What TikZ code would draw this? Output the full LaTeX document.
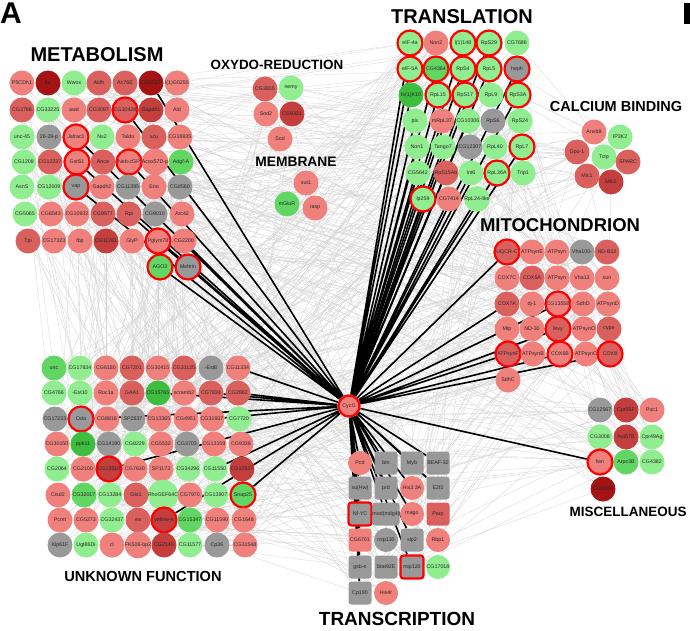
\documentclass[tikz,border=0pt]{standalone}
\usepackage{fontspec}
\setmainfont{Liberation Sans}
\usepackage{tikz}

\definecolor{genesalmon}{RGB}{240,128,124}
\definecolor{genemid}{RGB}{218,96,94}
\definecolor{genedark}{RGB}{196,62,62}
\definecolor{genedeep}{RGB}{165,20,20}
\definecolor{genelgrn}{RGB}{144,238,144}
\definecolor{genemgrn}{RGB}{98,214,98}
\definecolor{genedgrn}{RGB}{62,190,62}
\definecolor{genegray}{RGB}{153,153,153}
\definecolor{ringred}{RGB}{255,0,0}
\newcommand{\genefont}{\fontsize{5.3}{6}\selectfont}

\pgfdeclarelayer{back}
\pgfdeclarelayer{mid}
\pgfsetlayers{back,mid,main}

\pgfmathdeclarerandomlist{genes}{{P5CDh1}{fbr}{Wwox}{Aldh}{Ac76E}{CG5527}{lG0255}{CG3788}{CG33225}{awd}{CG3097}{CG30428}{Gapdh1}{Ald}{unc45}{p2629}{Jafrac1}{Ns2}{Taldo}{scu}{CG16935}{CG1208}{CG12237}{GstS1}{Ance}{NebcGP}{Acox57D}{AdgfA}{AsnS}{CG12009}{vap}{Gapdh2}{CG11395}{Eno}{CG8560}{CG5065}{CG6543}{CG10932}{CG9577}{Rpi}{CG9010}{Arc42}{Tpi}{CG17323}{fbp}{CG11261}{GlyP}{Pglym78}{CG2200}{AGO3}{Meltrin}{CG3835}{nemy}{Sod2}{CG9331}{Sod}{sut1}{mGluR}{rasp}{eIF4a}{Non2}{l1148}{RpS29}{CG7686}{eIF5A}{CG4364}{RpS4}{RpL5}{heph}{fs1K10}{RpL15}{RpS17}{RpL9}{RpS3A}{pix}{mRpL37}{CG10306}{RpS6}{RpS24}{Non1}{Tango7}{CG12307}{RpL40}{RpL7}{CG5642}{RpS15Ab}{Int6}{RpL36A}{Trip1}{lp259}{CG7414}{RpL24like}{Anxb9}{IP3K2}{Gpo1}{Tctp}{SPARC}{Mlc1}{Mlc2}{UQCRC}{ATPsynE}{ATPsynG}{Vha100}{NDB12}{COX7C}{COX5A}{ATPsynCf}{Vha13}{sun}{COX7A}{dj1}{CG13558}{SdhD}{ATPsynD}{Mtp}{ND30}{levy}{ATPsynO}{cype}{ATPsynF}{ATPsynB}{COX6B}{ATPsynC}{COX8}{SdhC}{CG12567}{Cpr56F}{Poc1}{CG3008}{Act57B}{Cpr49Ag}{fwn}{Arpc3B}{CG4382}{CG5023}{unc}{CG17834}{CG6180}{CG7201}{CG30415}{CG31125}{Est8}{CG11334}{CG4766}{Est10}{Roc1a}{GAA1}{CG15765}{scramb2}{CG7834}{CG2862}{CG17233}{Oda}{CG8818}{SP2637}{CG13365}{CG4951}{CG31937}{CG7720}{CG30150}{ppk11}{CG14190}{CG8229}{CG5532}{CG3703}{CG12159}{CG9338}{CG2064}{CG2100}{CG13510}{CG7630}{SP1173}{CG34296}{CG11550}{CG10527}{Cisd2}{CG32017}{CG13284}{Glo1}{RhoGEF64C}{CG7970}{CG13907}{Snap25}{Pcmt}{CG5273}{CG32437}{ea}{yellowe}{CG15347}{CG11590}{CG1648}{Klp61F}{Ugt86Di}{cl}{FK506bp2}{CG2145}{CG11577}{Cp36}{CG31548}{Pcd}{bin}{Myb}{BEAF32}{suHw}{prd}{His33A}{E2f2}{NfYC}{moddmg4}{mago}{Parp}{CG6701}{mip130}{slp2}{Rbp1}{gsbn}{Stat92E}{mip120}{CG17018}{Cp190}{His4r}}

\begin{document}
\begin{tikzpicture}[x=1pt, y=-1pt,
    gene/.style={circle, minimum size=25pt, inner sep=0pt, font=\genefont, text=black!85},
    tf/.style={rectangle, rounded corners=3pt, minimum size=23pt, inner sep=0pt, font=\genefont, text=black!85},
    lr/.style={fill=genesalmon}, mr/.style={fill=genemid}, dr/.style={fill=genedark}, vr/.style={fill=genedeep},
    lg/.style={fill=genelgrn}, mg/.style={fill=genemgrn}, dg/.style={fill=genedgrn}, gy/.style={fill=genegray},
    hit/.style={draw=ringred, line width=2.2pt},
    grp/.style={font=\bfseries\fontsize{#1}{#1}\selectfont, inner sep=0pt},
    link/.style={draw=black, line width=1.6pt},
    mesh/.style={draw=black!17, line width=0.3pt}]
    \useasboundingbox (0,0) rectangle (690,631);
    \node[font=\bfseries\fontsize{30}{30}\selectfont, inner sep=0pt] (panelA) at (11,13) {A};
    \fill (684,3) rectangle (690,24);

    % titles
    \node[grp=20] (tMetab) at (97,55) {METABOLISM};
    \node[grp=13.4] (tOxy) at (277,65) {OXYDO-REDUCTION};
    \node[grp=13.8] (tMemb) at (296,162) {MEMBRANE};
    \node[grp=20] (tTransl) at (462,17) {TRANSLATION};
    \node[grp=14.5] (tCalc) at (616,107) {CALCIUM BINDING};
    \node[grp=18.5] (tMito) at (560,225) {MITOCHONDRION};
    \node[grp=13.5] (tMisc) at (628,512) {MISCELLANEOUS};
    \node[grp=14.6] (tUnkn) at (143,576) {UNKNOWN FUNCTION};
    \node[grp=19] (tTransc) at (397,619) {TRANSCRIPTION};

    % hub
    \node[gene, lr, hit, minimum size=21pt] (CycG) at (349,406) {CycG};

    % metabolism
    \node[gene,lr] (P5CDh1) at (22,83) {P5CDh1}; \node[gene,vr] (fbr) at (48,83) {fbr}; \node[gene,lg] (Wwox) at (74,83) {Wwox}; \node[gene,mr] (Aldh) at (99,83) {Aldh}; \node[gene,mr] (Ac76E) at (125,83) {Ac76E}; \node[gene,vr] (CG5527) at (151,83) {CG5527}; \node[gene,lr] (lG0255) at (177,83) {l(1)G0255};
    \node[gene,mr] (CG3788) at (22,110) {CG3788}; \node[gene,lg] (CG33225) at (48,110) {CG33225}; \node[gene,lr] (awd) at (74,110) {awd}; \node[gene,mr] (CG3097) at (99,110) {CG3097}; \node[gene,mr,hit] (CG30428) at (125,110) {CG30428}; \node[gene,dr] (Gapdh1) at (151,110) {Gapdh1}; \node[gene,lr] (Ald) at (177,110) {Ald};
    \node[gene,lg] (unc45) at (22,137) {unc-45}; \node[gene,gy] (p2629) at (49,137) {26-29-p}; \node[gene,lr,hit] (Jafrac1) at (76,137) {Jafrac1}; \node[gene,lg] (Ns2) at (102,137) {Ns2}; \node[gene,lr] (Taldo) at (128,137) {Taldo}; \node[gene,mr] (scu) at (154,137) {scu}; \node[gene,lr] (CG16935) at (180,137) {CG16935};
    \node[gene,lg] (CG1208) at (24,162) {CG1208}; \node[gene,mr] (CG12237) at (50,162) {CG12237}; \node[gene,lr,hit] (GstS1) at (77,162) {GstS1}; \node[gene,mr] (Ance) at (103,162) {Ance}; \node[gene,lr,hit] (NebcGP) at (129,162) {Neb-cGP}; \node[gene,lr] (Acox57D) at (155,162) {Acox57D-p}; \node[gene,mg] (AdgfA) at (181,162) {Adgf-A};
    \node[gene,lg] (AsnS) at (22,187) {AsnS}; \node[gene,lg] (CG12009) at (49,187) {CG12009}; \node[gene,gy,hit] (vap) at (76,187) {vap}; \node[gene,lr] (Gapdh2) at (102,187) {Gapdh2}; \node[gene,gy] (CG11395) at (128,187) {CG11395}; \node[gene,lr] (Eno) at (154,187) {Eno}; \node[gene,gy] (CG8560) at (180,187) {CG8560};
    \node[gene,lg] (CG5065) at (25,214) {CG5065}; \node[gene,lr] (CG6543) at (51,214) {CG6543}; \node[gene,lr] (CG10932) at (77,214) {CG10932}; \node[gene,mr] (CG9577) at (103,214) {CG9577}; \node[gene,mr] (Rpi) at (129,214) {Rpi}; \node[gene,gy] (CG9010) at (155,214) {CG9010}; \node[gene,lr] (Arc42) at (182,214) {Arc42};
    \node[gene,mr] (Tpi) at (28,241) {Tpi}; \node[gene,lr] (CG17323) at (54,241) {CG17323}; \node[gene,lr] (fbp) at (80,241) {fbp}; \node[gene,dr] (CG11261) at (106,241) {CG11261}; \node[gene,lr] (GlyP) at (132,241) {GlyP}; \node[gene,lr,hit] (Pglym78) at (158,241) {Pglym78}; \node[gene,lr] (CG2200) at (184,241) {CG2200};
    \node[gene,mg,hit] (AGO3) at (160,267) {AGO3}; \node[gene,gy,hit] (Meltrin) at (188,267) {Meltrin};

    % oxydo-reduction and membrane
    \node[gene,mr] (CG3835) at (265,89) {CG3835}; \node[gene,lg] (nemy) at (291,88) {nemy};
    \node[gene,lr] (Sod2) at (266,114) {Sod2}; \node[gene,dr] (CG9331) at (292,114) {CG9331};
    \node[gene,lr] (Sod) at (280,139) {Sod};
    \node[gene,lr] (sut1) at (306,183) {sut1}; \node[gene,mg] (mGluR) at (287,204) {mGluR}; \node[gene,lr] (rasp) at (315,208) {rasp};

    % translation
    \node[gene,lg,hit] (eIF4a) at (410,43) {eIF-4a}; \node[gene,lr] (Non2) at (436,43) {Non2}; \node[gene,lg,hit] (l1148) at (463,43) {l(1)148}; \node[gene,lg,hit] (RpS29) at (489,43) {RpS29}; \node[gene,lg] (CG7686) at (517,43) {CG7686};
    \node[gene,lg,hit] (eIF5A) at (410,69) {eIF-5A}; \node[gene,mg,hit] (CG4364) at (436,69) {CG4364}; \node[gene,lg,hit] (RpS4) at (463,69) {RpS4}; \node[gene,lg,hit] (RpL5) at (489,69) {RpL5}; \node[gene,gy,hit] (heph) at (517,69) {heph};
    \node[gene,dg] (fs1K10) at (411,95) {fs(1)K10}; \node[gene,lg,hit] (RpL15) at (438,95) {RpL15}; \node[gene,lg,hit] (RpS17) at (465,95) {RpS17}; \node[gene,lg] (RpL9) at (491,95) {RpL9}; \node[gene,lg,hit] (RpS3A) at (518,95) {RpS3A};
    \node[gene,lg] (pix) at (415,121) {pix}; \node[gene,lr] (mRpL37) at (442,121) {mRpL37}; \node[gene,lg] (CG10306) at (468,121) {CG10306}; \node[gene,gy] (RpS6) at (493,121) {RpS6}; \node[gene,lg] (RpS24) at (520,121) {RpS24};
    \node[gene,lg] (Non1) at (417,147) {Non1}; \node[gene,lg] (Tango7) at (443,147) {Tango7}; \node[gene,gy] (CG12307) at (470,147) {CG12307}; \node[gene,lg] (RpL40) at (495,147) {RpL40}; \node[gene,lg,hit] (RpL7) at (522,147) {RpL7};
    \node[gene,lg] (CG5642) at (418,173) {CG5642}; \node[gene,mr] (RpS15Ab) at (446,173) {RpS15Ab}; \node[gene,lg] (Int6) at (471,173) {Int6}; \node[gene,lg,hit] (RpL36A) at (497,173) {RpL36A}; \node[gene,lg] (Trip1) at (523,173) {Trip1};
    \node[gene,lg,hit] (lp259) at (423,199) {lp259}; \node[gene,lr] (CG7414) at (449,199) {CG7414}; \node[gene,lg] (RpL24like) at (477,199) {RpL24-like};

    % calcium binding
    \node[gene,lr] (Anxb9) at (594,132) {Anxb9}; \node[gene,lg] (IP3K2) at (620,137) {IP3K2};
    \node[gene,mr] (Gpo1) at (577,152) {Gpo-1}; \node[gene,lg] (Tctp) at (604,157) {Tctp}; \node[gene,mr] (SPARC) at (628,162) {SPARC};
    \node[gene,mr] (Mlc1) at (587,176) {Mlc1}; \node[gene,dr] (Mlc2) at (611,182) {Mlc2};

    % mitochondrion
    \node[gene,mr,hit] (UQCRC) at (507,252) {UQCR-C}; \node[gene,lr] (ATPsynE) at (532,252) {ATPsynE}; \node[gene,lr] (ATPsynG) at (557,252) {ATPsyn}; \node[gene,gy] (Vha100) at (582,252) {Vha100-}; \node[gene,mr] (NDB12) at (607,252) {ND-B12};
    \node[gene,lr] (COX7C) at (507,278) {COX7C}; \node[gene,mr] (COX5A) at (532,278) {COX5A}; \node[gene,lr] (ATPsynCf) at (557,278) {ATPsyn}; \node[gene,lr] (Vha13) at (582,278) {Vha13}; \node[gene,lr] (sun) at (607,278) {sun};
    \node[gene,mr] (COX7A) at (507,304) {COX7A}; \node[gene,lr] (dj1) at (532,304) {dj-1}; \node[gene,lr,hit] (CG13558) at (558,304) {CG13558}; \node[gene,lr] (SdhD) at (583,304) {SdhD}; \node[gene,lr] (ATPsynD) at (608,304) {ATPsynD};
    \node[gene,lr] (Mtp) at (507,329) {Mtp}; \node[gene,lr] (ND30) at (532,329) {ND-30}; \node[gene,mr,hit] (levy) at (558,329) {levy}; \node[gene,lr] (ATPsynO) at (584,329) {ATPsynO}; \node[gene,mr] (cype) at (609,329) {cype};
    \node[gene,mr,hit] (ATPsynF) at (508,354) {ATPsynF}; \node[gene,lr] (ATPsynB) at (533,354) {ATPsynB}; \node[gene,lr,hit] (COX6B) at (560,354) {COX6B}; \node[gene,lr] (ATPsynC) at (586,354) {ATPsynC}; \node[gene,mr,hit] (COX8) at (610,354) {COX8};
    \node[gene,lr] (SdhC) at (508,380) {SdhC};

    % miscellaneous
    \node[gene,gy] (CG12567) at (600,410) {CG12567}; \node[gene,dr] (Cpr56F) at (626,410) {Cpr56F}; \node[gene,lr] (Poc1) at (652,410) {Poc1};
    \node[gene,lg] (CG3008) at (600,437) {CG3008}; \node[gene,dr] (Act57B) at (626,437) {Act57B}; \node[gene,lg] (Cpr49Ag) at (652,437) {Cpr49Ag};
    \node[gene,lr,hit] (fwn) at (600,462) {fwn}; \node[gene,mg] (Arpc3B) at (626,462) {Arpc3B}; \node[gene,lg] (CG4382) at (652,462) {CG4382};
    \node[gene,vr] (CG5023) at (603,489) {CG5023};

    % unknown function
    \node[gene,mg] (unc) at (54,368) {unc}; \node[gene,lg] (CG17834) at (80,368) {CG17834}; \node[gene,lr] (CG6180) at (106,368) {CG6180}; \node[gene,mr] (CG7201) at (132,368) {CG7201}; \node[gene,lr] (CG30415) at (158,368) {CG30415}; \node[gene,mr] (CG31125) at (184,368) {CG31125}; \node[gene,gy] (Est8) at (211,368) {-Est8}; \node[gene,lr] (CG11334) at (238,368) {CG11334};
    \node[gene,lg] (CG4766) at (54,393) {CG4766}; \node[gene,lg] (Est10) at (80,393) {-Est10}; \node[gene,lr] (Roc1a) at (106,393) {Roc1a}; \node[gene,mr] (GAA1) at (132,393) {GAA1}; \node[gene,dg] (CG15765) at (158,393) {CG15765}; \node[gene,lr] (scramb2) at (184,393) {scramb2}; \node[gene,mr] (CG7834) at (211,393) {CG7834}; \node[gene,mr] (CG2862) at (238,393) {CG2862};
    \node[gene,gy] (CG17233) at (55,419) {CG17233}; \node[gene,gy,hit] (Oda) at (81,419) {Oda}; \node[gene,lr] (CG8818) at (107,419) {CG8818}; \node[gene,gy] (SP2637) at (133,419) {SP2637}; \node[gene,lr] (CG13365) at (159,419) {CG13365}; \node[gene,lr] (CG4951) at (186,419) {CG4951}; \node[gene,lr] (CG31937) at (212,419) {CG31937}; \node[gene,lg] (CG7720) at (239,419) {CG7720};
    \node[gene,lr] (CG30150) at (57,444) {CG30150}; \node[gene,dg] (ppk11) at (83,444) {ppk11}; \node[gene,gy] (CG14190) at (109,444) {CG14190}; \node[gene,lg] (CG8229) at (135,444) {CG8229}; \node[gene,lr] (CG5532) at (161,444) {CG5532}; \node[gene,gy] (CG3703) at (187,444) {CG3703}; \node[gene,lr] (CG12159) at (214,444) {CG12159}; \node[gene,lr] (CG9338) at (241,444) {CG9338};
    \node[gene,lg] (CG2064) at (57,469) {CG2064}; \node[gene,lr] (CG2100) at (83,469) {CG2100}; \node[gene,dr,hit] (CG13510) at (109,469) {CG13510}; \node[gene,lr] (CG7630) at (135,469) {CG7630}; \node[gene,lr] (SP1173) at (161,469) {SP1173}; \node[gene,lg] (CG34296) at (188,469) {CG34296}; \node[gene,lg] (CG11550) at (215,469) {CG11550}; \node[gene,dr] (CG10527) at (242,469) {CG10527};
    \node[gene,lr] (Cisd2) at (58,495) {Cisd2}; \node[gene,mg] (CG32017) at (84,495) {CG32017}; \node[gene,lg] (CG13284) at (110,495) {CG13284}; \node[gene,mr] (Glo1) at (136,495) {Glo1}; \node[gene,lg] (RhoGEF64C) at (163,495) {RhoGEF64C}; \node[gene,lr] (CG7970) at (190,495) {CG7970}; \node[gene,lg] (CG13907) at (216,495) {CG13907}; \node[gene,mg,hit] (Snap25) at (243,495) {Snap25};
    \node[gene,lr] (Pcmt) at (60,520) {Pcmt}; \node[gene,lr] (CG5273) at (86,520) {CG5273}; \node[gene,lg] (CG32437) at (112,520) {CG32437}; \node[gene,mr] (ea) at (138,520) {ea}; \node[gene,dr,hit] (yellowe) at (164,520) {yellow-e}; \node[gene,mg] (CG15347) at (190,520) {CG15347}; \node[gene,lr] (CG11590) at (217,520) {CG11590}; \node[gene,lr] (CG1648) at (244,520) {CG1648};
    \node[gene,gy] (Klp61F) at (60,545) {Klp61F}; \node[gene,lg] (Ugt86Di) at (86,545) {Ugt86Di}; \node[gene,lr] (cl) at (112,545) {cl}; \node[gene,lr] (FK506bp2) at (138,545) {FK506-bp2}; \node[gene,dr] (CG2145) at (164,545) {CG2145}; \node[gene,lg] (CG11577) at (190,545) {CG11577}; \node[gene,gy] (Cp36) at (217,545) {Cp36}; \node[gene,lr] (CG31548) at (245,545) {CG31548};

    % transcription
    \node[gene,lr,minimum size=24pt] (Pcd) at (360,463) {Pcd}; \node[tf,gy] (bin) at (386,463) {bin}; \node[tf,gy] (Myb) at (412,463) {Myb}; \node[tf,gy] (BEAF32) at (438,463) {BEAF-32};
    \node[tf,gy] (suHw) at (360,488) {su(Hw)}; \node[tf,gy] (prd) at (386,488) {prd}; \node[gene,lr,minimum size=24pt] (His33A) at (412,488) {His3.3A}; \node[tf,gy] (E2f2) at (438,488) {E2f2};
    \node[tf,gy,hit] (NfYC) at (360,514) {Nf-YC}; \node[tf,gy] (moddmg4) at (386,514) {mod(mdg4)}; \node[gene,lr,minimum size=24pt] (mago) at (412,514) {mago}; \node[tf,mr] (Parp) at (438,514) {Parp};
    \node[tf,lr] (CG6701) at (360,540) {CG6701}; \node[gene,gy,minimum size=24pt] (mip130) at (386,540) {mip130}; \node[tf,gy] (slp2) at (412,540) {slp2}; \node[gene,lr,minimum size=24pt] (Rbp1) at (438,540) {Rbp1};
    \node[tf,gy] (gsbn) at (360,567) {gsb-n}; \node[tf,gy] (Stat92E) at (386,567) {Stat92E}; \node[tf,gy,hit] (mip120) at (412,567) {mip120}; \node[gene,lg,minimum size=24pt] (CG17018) at (438,567) {CG17018};
    \node[tf,gy] (Cp190) at (360,593) {Cp190}; \node[gene,lr,minimum size=24pt] (His4r) at (386,593) {His4r};

    % background interactions
    \begin{pgfonlayer}{back}
        \pgfmathsetseed{4217}
        \foreach \k in {1,...,760} {
            \pgfmathrandomitem{\ga}{genes}\pgfmathrandomitem{\gb}{genes}
            \draw[mesh] (\ga) -- (\gb);
        }
    \end{pgfonlayer}

    % CycG partners
    \begin{pgfonlayer}{mid}
        \draw[link] (CycG) -- (CG5527) (CycG) -- (CG30428) (CycG) -- (Jafrac1) (CycG) -- (GstS1) (CycG) -- (NebcGP) (CycG) -- (vap) (CycG) -- (Rpi) (CycG) -- (Pglym78) (CycG) -- (CG2200) (CycG) -- (AGO3) (CycG) -- (Meltrin);
        \draw[link] (CycG) -- (eIF4a) (CycG) -- (eIF5A) (CycG) -- (fs1K10) (CycG) -- (pix) (CycG) -- (Non1) (CycG) -- (CG5642) (CycG) -- (lp259) (CycG) -- (CG4364) (CycG) -- (RpL15) (CycG) -- (mRpL37) (CycG) -- (Tango7) (CycG) -- (RpS15Ab) (CycG) -- (CG7414);
        \draw[link] (CycG) -- (l1148) (CycG) -- (RpS4) (CycG) -- (RpS17) (CycG) -- (CG10306) (CycG) -- (Int6) (CycG) -- (RpL24like) (CycG) -- (RpS29) (CycG) -- (RpL5) (CycG) -- (RpL36A) (CycG) -- (RpL7) (CycG) -- (RpS3A) (CycG) -- (heph);
        \draw[link] (CycG) -- (UQCRC) (CycG) -- (COX7A) (CycG) -- (CG13558) (CycG) -- (Mtp) (CycG) -- (levy) (CycG) -- (ATPsynF) (CycG) -- (COX6B) (CycG) -- (COX8);
        \draw[link] (CycG) -- (fwn);
        \draw[link] (CycG) -- (CG11334) (CycG) -- (CG2862) (CycG) -- (CG7834) (CycG) -- (CG15765) (CycG) -- (Oda) (CycG) -- (CG31937) (CycG) -- (CG13510) (CycG) -- (CG11550) (CycG) -- (yellowe) (CycG) -- (Snap25);
        \draw[link] (CycG) -- (Pcd) (CycG) -- (bin) (CycG) -- (Myb) (CycG) -- (BEAF32) (CycG) -- (suHw) (CycG) -- (prd) (CycG) -- (His33A) (CycG) -- (E2f2) (CycG) -- (NfYC) (CycG) -- (moddmg4) (CycG) -- (mago) (CycG) -- (CG6701) (CycG) -- (slp2) (CycG) -- (gsbn) (CycG) -- (mip120) (CycG) -- (Cp190);
    \end{pgfonlayer}
\end{tikzpicture}
\end{document}
